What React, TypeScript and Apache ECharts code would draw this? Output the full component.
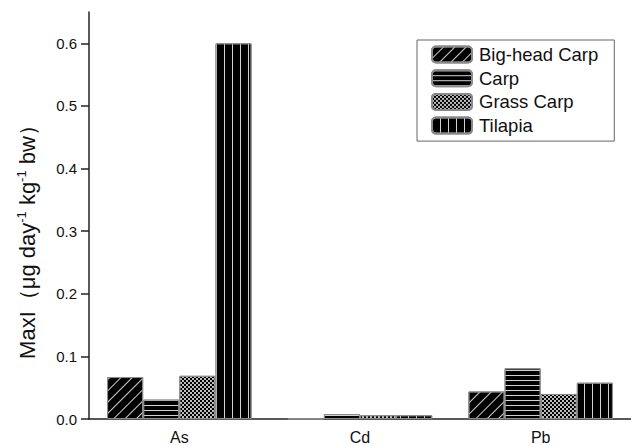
import React, { useEffect, useRef } from "react";
import * as echarts from "echarts";

const categories = ["As", "Cd", "Pb"];
const seriesNames = ["Big-head Carp", "Carp", "Grass Carp", "Tilapia"];
const bigHead = [0.067, 0.0005, 0.044];
const carp = [0.031, 0.008, 0.081];
const grassCarp = [0.069, 0.006, 0.04];
const tilapia = [0.6, 0.006, 0.058];
const majorTicks = [0, 0.1, 0.2, 0.3, 0.4, 0.5, 0.6];
const minorTicks = [0.05, 0.15, 0.25, 0.35, 0.45, 0.55];

const LINE = "#d0d0d0";
const decals: any[] = [
  { symbol: "rect", color: LINE, dashArrayX: [1, 0], dashArrayY: [1, 7], rotation: -Math.PI / 4 },
  { symbol: "rect", color: LINE, dashArrayX: [4, 0], dashArrayY: [1, 4] },
  { symbol: "rect", color: "#bdbdbd", dashArrayX: [[2, 2], [0, 2, 2, 0]], dashArrayY: [2, 0] },
  { symbol: "rect", color: LINE, dashArrayX: [1, 6.3], dashArrayY: [4, 0] },
];

export default function App() {
  const ref = useRef<HTMLDivElement>(null);
  useEffect(() => {
    const chart = echarts.init(ref.current!, null, { renderer: "svg" });
    const data = [bigHead, carp, grassCarp, tilapia];
    const font = "Liberation Sans, Arial, sans-serif";
    chart.setOption({
      animation: false,
      textStyle: { fontFamily: font },
      grid: { left: 89, top: 12, width: 546, bottom: 27 },
      legend: {
        orient: "vertical",
        left: 417,
        top: 40,
        padding: [5, 16, 6, 14],
        borderColor: "#666",
        borderWidth: 1,
        itemWidth: 40,
        itemHeight: 16,
        itemGap: 4.7,
        textStyle: { fontSize: 18.5, lineHeight: 18, color: "#111", fontFamily: font, padding: [0, 0, 0, 2] },
        data: seriesNames,
      },
      xAxis: [
        {
          type: "category",
          data: categories,
          axisLine: { lineStyle: { color: "#222", width: 1.5 } },
          axisTick: { alignWithLabel: true, length: 8, lineStyle: { color: "#222", width: 1.5 } },
          axisLabel: { fontSize: 16, color: "#111", margin: 10 },
        },
        {
          type: "category",
          data: categories,
          position: "bottom",
          axisLine: { show: false },
          axisTick: { alignWithLabel: false, length: 4, lineStyle: { color: "#222", width: 1.5 } },
          axisLabel: { show: false },
        },
      ],
      yAxis: [
        {
          type: "value",
          min: 0,
          max: 0.65,
          interval: 0.05,
          splitLine: { show: false },
          axisLine: { show: true, lineStyle: { color: "#222", width: 1.5 } },
          axisTick: { show: true, length: 8, customValues: majorTicks, lineStyle: { color: "#222", width: 1.5 } },
          axisLabel: {
            fontSize: 15,
            color: "#111",
            margin: 12,
            customValues: majorTicks,
            formatter: (v: number) => v.toFixed(1),
          },
          name: "MaxI（μg day{sup|-1} kg{sup|-1} bw）",
          nameLocation: "middle",
          nameRotate: 90,
          nameGap: 50,
          nameTextStyle: {
            fontSize: 22,
            color: "#111",
            lineHeight: 24,
            padding: [0, 42, 0, 0],
            rich: { sup: { fontSize: 13, verticalAlign: "top", lineHeight: 24, color: "#111" } },
          },
        },
        {
          type: "value",
          min: 0,
          max: 0.65,
          interval: 0.05,
          splitLine: { show: false },
          axisLine: { show: false },
          axisTick: { show: true, length: 5, customValues: minorTicks, lineStyle: { color: "#222", width: 1.5 } },
          axisLabel: { show: false },
        },
      ],
      series: seriesNames.map((name, i) => ({
        name,
        type: "bar",
        data: data[i],
        barGap: "0%",
        barCategoryGap: "20%",
        itemStyle: { color: "#000", borderColor: "#8a8a8a", borderWidth: 1, decal: decals[i] },
      })),
    });
    return () => chart.dispose();
  }, []);
  return <div ref={ref} style={{ position: "fixed", left: 0, top: 0, width: 631, height: 446, background: "#fff" }} />;
}
